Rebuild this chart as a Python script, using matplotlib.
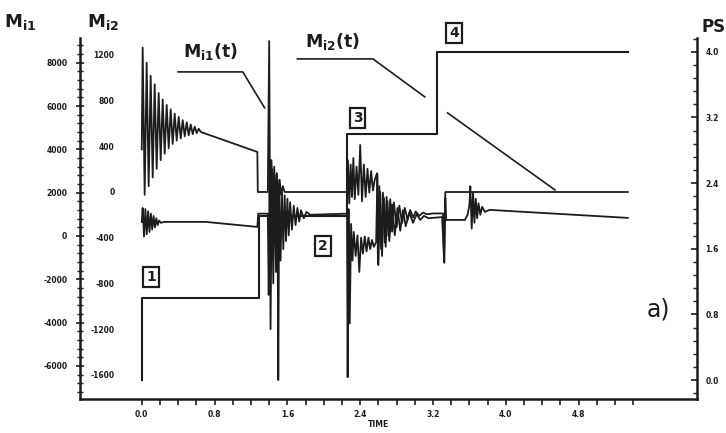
import matplotlib.pyplot as plt
from matplotlib.ticker import MultipleLocator, FixedLocator

plt.rcParams['font.family'] = ['DejaVu Sans']
plt.rcParams['font.weight'] = 'bold'
plt.rcParams['mathtext.default'] = 'bf'

INK = '#1c1c1c'

# M_i1(t): upper curve, read against the outer left scale
m1_t = [0.000, 0.010, 0.032, 0.054, 0.076, 0.098, 0.120, 0.142, 0.164, 0.186,
        0.208, 0.230, 0.252, 0.274, 0.296, 0.318, 0.340, 0.362, 0.384, 0.406,
        0.428, 0.450, 0.472, 0.494, 0.516, 0.538, 0.560, 0.582, 0.604, 0.626,
        0.650, 1.270, 1.275, 1.385, 1.400, 1.410, 1.425, 1.440, 1.455, 1.470,
        1.485, 1.500, 1.515, 1.530, 1.550, 1.570, 2.255, 2.265, 2.280, 2.295,
        2.310, 2.325, 2.340, 2.360, 2.380, 2.400, 2.420, 2.440, 2.460, 2.480,
        2.500, 2.520, 2.540, 2.560, 2.585, 2.595, 2.610, 2.630, 2.650, 2.670,
        2.690, 2.710, 2.730, 2.750, 2.770, 2.800, 2.830, 2.860, 2.890, 2.920,
        2.950, 2.980, 3.010, 3.050, 3.090, 3.130, 3.200, 3.310, 3.320, 3.335,
        5.340]
m1_val = [4000, 8700, 1900, 8000, 2300, 7400, 2700, 7000, 3100, 6600,
          3500, 6300, 3800, 6050, 4050, 5850, 4250, 5650, 4400, 5500,
          4500, 5350, 4600, 5250, 4650, 5150, 4700, 5050, 4750, 4950,
          4800, 3880, 2030, 2030, 9000, 1000, 3500, 1300, 3200, 1500,
          2900, 1700, 2600, 1900, 2300, 2030, 2030, 3500, 1500, 3300,
          1800, 3600, 1700, 3200, 1900, 4200, 1600, 3300, 1800, 3100,
          2000, 3000, 2100, 2600, 2900, -1300, 2300, -600, 2000, -300,
          1800, 0, 1700, 200, 1550, 400, 1400, 600, 1300, 750,
          1200, 850, 1130, 930, 1080, 1000, 1040, 1040, -1200, 2030,
          2030]

# M_i2(t): lower curve, read against the inner left scale
m2_t = [0.000, 0.010, 0.025, 0.040, 0.055, 0.070, 0.085, 0.100, 0.115, 0.130,
        0.145, 0.160, 0.175, 0.190, 0.210, 0.250, 0.700, 1.270, 1.280, 1.385,
        1.395, 1.405, 1.415, 1.430, 1.445, 1.460, 1.475, 1.490, 1.500, 1.510,
        1.525, 1.540, 1.555, 1.570, 1.585, 1.600, 1.615, 1.630, 1.650, 1.670,
        1.690, 1.710, 1.730, 1.750, 1.780, 1.810, 1.850, 2.255, 2.262, 2.272,
        2.285, 2.300, 2.315, 2.330, 2.350, 2.370, 2.390, 2.410, 2.430, 2.450,
        2.470, 2.490, 2.510, 2.530, 2.550, 2.575, 2.590, 2.600, 2.620, 2.640,
        2.660, 2.680, 2.700, 2.720, 2.750, 2.780, 2.810, 2.840, 2.870, 2.900,
        2.940, 2.980, 3.020, 3.060, 3.100, 3.150, 3.300, 3.325, 3.335, 3.345,
        3.550, 3.580, 3.600, 3.610, 3.625, 3.640, 3.655, 3.670, 3.685, 3.700,
        3.720, 3.740, 3.770, 3.820, 5.340]
m2_val = [-262, -140, -390, -150, -370, -170, -350, -190, -330, -210,
          -310, -230, -290, -250, -270, -262, -262, -306, -190, -190,
          -900, 280, -1200, 200, -800, 150, -700, 100, -1645, 50,
          -600, 0, -500, -30, -430, -60, -380, -90, -330, -120,
          -290, -140, -260, -160, -230, -175, -200, -190, -1620, -150,
          -1150, -280, -600, -350, -560, -380, -700, -400, -540, -390,
          -520, -400, -500, -420, -480, -440, 150, -640, 0, -560,
          -50, -480, -80, -430, -110, -380, -140, -340, -160, -300,
          -180, -270, -195, -245, -210, -230, -220, -620, -50, -245,
          -245, -200, -114, 50, -320, 0, -270, -60, -230, -100,
          -200, -130, -175, -157, -227]

# PS step curve, right scale
ps_t = [0.0, 0.0, 1.285, 2.255, 3.245, 5.34]
ps_val = [0.0, 1.0, 2.0, 3.0, 4.0, 4.0]

m1_ticks = [-6000, -4000, -2000, 0, 2000, 4000, 6000, 8000]
m2_ticks = [-1600, -1200, -800, -400, 0, 400, 800, 1200]
ps_ticks = [0.0, 0.8, 1.6, 2.4, 3.2, 4.0]
time_ticks = [0.0, 0.8, 1.6, 2.4, 3.2, 4.0, 4.8]
time_minor = [i * 0.2 for i in range(28)]

fig = plt.figure(figsize=(7.26, 4.33), dpi=100)
ax = fig.add_axes([0.110, 0.0785, 0.850, 0.834])

ax.plot(m1_t, m1_val, color=INK, lw=1.3)
ax.set_xlim(-0.68, 6.10)
ax.set_ylim(-7531, 9148)
for side in ['top', 'right']:
    ax.spines[side].set_visible(False)
for side in ['left', 'bottom']:
    ax.spines[side].set_linewidth(1.8)
    ax.spines[side].set_color(INK)

ax.yaxis.set_major_locator(FixedLocator(m1_ticks))
ax.yaxis.set_minor_locator(MultipleLocator(400))
ax.set_yticklabels([f'{v}' for v in m1_ticks])
ax.tick_params(axis='y', which='major', direction='inout', length=6, width=1.2,
               labelsize=5.5, pad=6, colors=INK)
ax.tick_params(axis='y', which='minor', direction='inout', length=4, width=1.0, colors=INK)

ax.xaxis.set_major_locator(FixedLocator(time_ticks))
ax.xaxis.set_minor_locator(FixedLocator(time_minor))
ax.set_xticklabels([f'{v:.1f}' for v in time_ticks])
ax.tick_params(axis='x', which='both', direction='out', length=4, width=1.2,
               labelsize=5.5, pad=4, colors=INK)

# inner scale for M_i2, labels only
ax2 = ax.twinx()
ax2.plot(m2_t, m2_val, color=INK, lw=1.3)
ax2.set_ylim(-1811, 1347)
for s in ax2.spines.values():
    s.set_visible(False)
ax2.yaxis.set_ticks_position('left')
ax2.yaxis.set_major_locator(FixedLocator(m2_ticks))
ax2.set_yticklabels([f'{v}' for v in m2_ticks])
ax2.tick_params(axis='y', length=0, pad=-25, labelsize=5.5, colors=INK)

# PS scale on the right
ax3 = ax.twinx()
ax3.plot(ps_t, ps_val, color=INK, lw=1.5, drawstyle='steps-post')
ax3.set_ylim(-0.23, 4.17)
for side in ['top', 'left', 'bottom']:
    ax3.spines[side].set_visible(False)
ax3.spines['right'].set_linewidth(1.8)
ax3.spines['right'].set_color(INK)
ax3.yaxis.set_major_locator(FixedLocator(ps_ticks))
ax3.yaxis.set_minor_locator(MultipleLocator(0.16))
ax3.set_yticklabels([f'{v:.1f}' for v in ps_ticks])
ax3.tick_params(axis='y', which='major', direction='in', length=4, width=1.2,
                labelsize=5.5, pad=6, colors=INK)
ax3.tick_params(axis='y', which='minor', direction='in', length=3, width=1.0, colors=INK)

# axis titles
fig.text(0.028, 0.95, r'$M_{i1}$', fontsize=13, ha='center', va='center', color=INK)
fig.text(0.142, 0.95, r'$M_{i2}$', fontsize=13, ha='center', va='center', color=INK)
fig.text(0.983, 0.938, 'PS', fontsize=12, ha='center', va='center', color=INK)
fig.text(0.522, 0.020, 'TIME', fontsize=5.5, ha='center', va='center', color=INK)

# curve labels with leader lines
ax.text(0.76, 8500, r'$M_{i1}(t)$', fontsize=12.5, ha='center', va='center', color=INK)
ax.plot([0.40, 1.11, 1.35], [7577, 7577, 5914], color=INK, lw=1.2)
ax.text(2.10, 8963, r'$M_{i2}(t)$', fontsize=12.5, ha='center', va='center', color=INK)
ax.plot([1.71, 2.54, 3.11], [8177, 8177, 6422], color=INK, lw=1.2)
ax.plot([3.36, 4.54], [5683, 2125], color=INK, lw=1.2)

# numbered stages of the step curve
box = dict(boxstyle='square,pad=0.2', fc='white', ec=INK, lw=1.6)
for label, bx, by in [('1', 0.10, -1894), ('2', 1.99, -462),
                      ('3', 2.37, 5452), ('4', 3.43, 9379)]:
    ax.text(bx, by, label, fontsize=10, ha='center', va='center', color=INK,
            bbox=box, clip_on=False, zorder=5)

ax.text(5.68, -3400, 'a)', fontsize=17, ha='center', va='center', color=INK,
        fontweight='normal')

fig.savefig('out.png', dpi=100)
